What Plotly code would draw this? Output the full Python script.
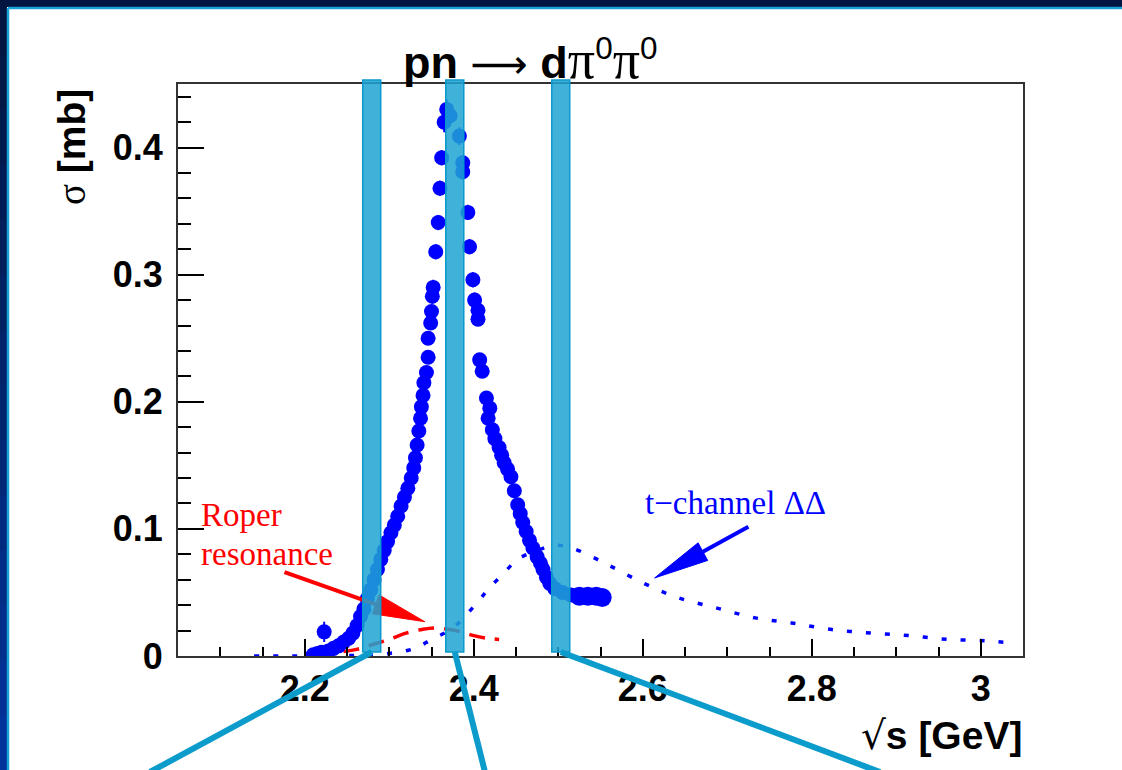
import math
import plotly.graph_objects as go

# ---------------- data ----------------
data_x = [2.210, 2.215, 2.220, 2.223, 2.228, 2.234, 2.240, 2.246, 2.252, 2.257,
          2.262, 2.266, 2.270, 2.274, 2.278, 2.282, 2.286, 2.290, 2.294, 2.298,
          2.302, 2.306, 2.310, 2.314, 2.318, 2.322, 2.326, 2.329, 2.331, 2.333,
          2.335, 2.337, 2.338, 2.340, 2.341, 2.344, 2.346, 2.346, 2.349, 2.350,
          2.351, 2.352, 2.355, 2.358, 2.360, 2.362, 2.365, 2.368,
          2.372, 2.383, 2.387, 2.387, 2.393, 2.395, 2.399, 2.401, 2.405, 2.405,
          2.407, 2.410, 2.415, 2.417, 2.419, 2.422, 2.425, 2.430, 2.433, 2.436,
          2.440, 2.444, 2.448, 2.452, 2.455, 2.458,
          2.462, 2.466, 2.470, 2.475, 2.479, 2.482, 2.486, 2.490, 2.496, 2.505,
          2.515, 2.525, 2.535, 2.545, 2.552]
data_y = [0.001, 0.002, 0.003, 0.019, 0.004, 0.006, 0.008, 0.011, 0.014, 0.018,
          0.024, 0.031, 0.037, 0.045, 0.052, 0.060, 0.068, 0.076, 0.083, 0.090,
          0.097, 0.103, 0.110, 0.118, 0.125, 0.132, 0.140, 0.148, 0.156, 0.166,
          0.177, 0.187, 0.196, 0.205, 0.215, 0.223, 0.235, 0.250, 0.262, 0.271,
          0.283, 0.290, 0.318, 0.341, 0.368, 0.392, 0.420, 0.430,
          0.425, 0.409, 0.388, 0.381, 0.349, 0.322, 0.296, 0.280, 0.272, 0.265,
          0.233, 0.224, 0.203, 0.187, 0.195, 0.178, 0.171, 0.164, 0.158, 0.152,
          0.147, 0.141, 0.130, 0.119, 0.112, 0.105,
          0.098, 0.091, 0.085, 0.078, 0.073, 0.068, 0.062, 0.057, 0.053, 0.050,
          0.048, 0.047, 0.047, 0.047, 0.046]
data_err = [0.002, 0.002, 0.002, 0.008, 0.002, 0.002, 0.002, 0.002, 0.002, 0.002,
            0.003, 0.003, 0.003, 0.003, 0.003, 0.003, 0.003, 0.003, 0.003, 0.003,
            0.004, 0.004, 0.004, 0.004, 0.004, 0.004, 0.004, 0.004, 0.004, 0.004,
            0.005, 0.005, 0.005, 0.005, 0.005, 0.005, 0.005, 0.005, 0.005, 0.005,
            0.006, 0.006, 0.006, 0.006, 0.006, 0.006, 0.008, 0.008,
            0.008, 0.007, 0.006, 0.006, 0.006, 0.006, 0.006, 0.006, 0.005, 0.005,
            0.005, 0.005, 0.005, 0.005, 0.005, 0.005, 0.005, 0.004, 0.004, 0.004,
            0.004, 0.004, 0.004, 0.004, 0.004, 0.004,
            0.004, 0.003, 0.003, 0.003, 0.003, 0.003, 0.003, 0.003, 0.003, 0.003,
            0.004, 0.005, 0.006, 0.006, 0.005]

roper_x = [2.215, 2.24, 2.26, 2.28, 2.30, 2.32, 2.34, 2.355, 2.37, 2.385, 2.40, 2.415, 2.43]
roper_y = [0.002, 0.003, 0.005, 0.009, 0.013, 0.018, 0.021, 0.022, 0.021, 0.019, 0.016, 0.014, 0.013]

tch_x = [2.14, 2.20, 2.26, 2.30, 2.33, 2.35, 2.375, 2.404, 2.419, 2.434, 2.452, 2.475,
         2.496, 2.516, 2.54, 2.561, 2.602, 2.641, 2.686, 2.733, 2.776, 2.822, 2.870,
         2.916, 2.962, 3.006, 3.04]
tch_y = [0.000, 0.000, 0.0005, 0.002, 0.006, 0.013, 0.022, 0.042, 0.054, 0.064, 0.076, 0.083,
         0.087, 0.085, 0.078, 0.071, 0.057, 0.046, 0.038, 0.030, 0.026, 0.021, 0.018,
         0.016, 0.013, 0.012, 0.010]

x_tickvals = [2.2, 2.4, 2.6, 2.8, 3.0]
x_ticktext = ["2.2", "2.4", "2.6", "2.8", "3"]
y_tickvals = [0, 0.1, 0.2, 0.3, 0.4]
y_ticktext = ["0", "0.1", "0.2", "0.3", "0.4"]

x_range = [2.05, 3.05]
y_range = [0.0, 0.45]

# highlighted energy bands (sqrt(s) intervals)
bands = [(2.2686, 2.2899), (2.3669, 2.3882), (2.4923, 2.5136)]
# where the callout lines leave the page (pixel x at bottom edge)
callout_ends = [150, 485, 880]

# ---------------- layout geometry ----------------
W, H = 1122, 770
L, R, T, B = 178, 99, 84, 114
PW, PH = W - L - R, H - T - B


def pxp(xp):  # pixel x -> paper
    return (xp - L) / PW


def pyp(yp):  # pixel y -> paper
    return (H - B - yp) / PH


def d2px(x):
    return L + (x - x_range[0]) / (x_range[1] - x_range[0]) * PW


def d2py(y):
    return (H - B) - (y - y_range[0]) / (y_range[1] - y_range[0]) * PH


shapes = []

# dark page frame (top + left strip with gradient) and cyan inner border
shapes.append(dict(type="rect", xref="paper", yref="paper", x0=pxp(0), x1=pxp(W),
                   y0=pyp(7), y1=pyp(0), fillcolor="#001640", line_width=0, layer="above"))
nseg = 14
for i in range(nseg):
    t = i / (nseg - 1)
    r_, g_, b_ = 0, int(22 + 30 * t), int(64 + 90 * t)
    shapes.append(dict(type="rect", xref="paper", yref="paper", x0=pxp(0), x1=pxp(7),
                       y0=pyp(H * (i + 1) / nseg), y1=pyp(H * i / nseg),
                       fillcolor=f"rgb({r_},{g_},{b_})", line_width=0, layer="above"))
shapes.append(dict(type="line", xref="paper", yref="paper", x0=pxp(8), x1=pxp(W),
                   y0=pyp(8), y1=pyp(8), line=dict(color="#1aa3d6", width=2.5), layer="above"))
shapes.append(dict(type="line", xref="paper", yref="paper", x0=pxp(8), x1=pxp(8),
                   y0=pyp(8), y1=pyp(H), line=dict(color="#1aa3d6", width=2.5), layer="above"))


def arrow(tail, tip, color, width, head_len, head_half):
    x1, y1 = d2px(tail[0]), d2py(tail[1])
    x2, y2 = d2px(tip[0]), d2py(tip[1])
    dx, dy = x2 - x1, y2 - y1
    ln = math.hypot(dx, dy)
    ux, uy = dx / ln, dy / ln
    bx, by = x2 - ux * head_len, y2 - uy * head_len
    nx, ny = -uy, ux
    shapes.append(dict(type="line", xref="paper", yref="paper",
                       x0=pxp(x1), y0=pyp(y1), x1=pxp(bx), y1=pyp(by),
                       line=dict(color=color, width=width), layer="above"))
    pts = [(x2, y2), (bx + nx * head_half, by + ny * head_half), (bx - nx * head_half, by - ny * head_half)]
    path = "M " + " L ".join(f"{pxp(a):.5f},{pyp(b):.5f}" for a, b in pts) + " Z"
    shapes.append(dict(type="path", xref="paper", yref="paper", path=path,
                       fillcolor=color, line=dict(color=color, width=1), layer="above"))


arrow((2.176, 0.066), (2.342, 0.027), "#ff0000", 4, 52, 10)
arrow((2.725, 0.1016), (2.614, 0.0614), "#0000ff", 4, 55, 10)

# highlight bands and callout lines
for (b0, b1), xe in zip(bands, callout_ends):
    shapes.append(dict(type="rect", xref="x", yref="paper", x0=b0, x1=b1,
                       y0=pyp(652), y1=pyp(80),
                       fillcolor="rgba(30,165,212,0.85)",
                       line=dict(color="#0b98cc", width=1.5), layer="above"))
    xc = (b0 + b1) / 2
    shapes.append(dict(type="line", xref="paper", yref="paper",
                       x0=pxp(d2px(xc)), y0=pyp(652), x1=pxp(xe), y1=pyp(H + 2),
                       line=dict(color="#0c9ccc", width=6), layer="above"))

# ---------------- traces ----------------
sizes = [15] * len(data_x)
for k in range(1, 5):
    sizes[-k] = 19

fig = go.Figure()
fig.add_trace(go.Scatter(x=tch_x, y=tch_y, mode="lines",
                         line=dict(color="#0000ff", width=3.5, dash="5px,14px", shape="spline"),
                         hoverinfo="skip"))
fig.add_trace(go.Scatter(x=roper_x, y=roper_y, mode="lines",
                         line=dict(color="#ff0000", width=3.5, dash="16px,10px", shape="spline"),
                         hoverinfo="skip"))
fig.add_trace(go.Scatter(x=data_x, y=data_y, mode="markers",
                         marker=dict(color="#0000ff", size=sizes, line_width=0, opacity=1),
                         error_y=dict(type="data", array=data_err, color="#0000ff",
                                      thickness=2, width=0)))

sans = "Liberation Sans, Arial, sans-serif"
serif = "Liberation Serif, Times New Roman, serif"
tickfont = dict(family=sans, size=36, color="black", weight="bold")
axcommon = dict(showgrid=False, zeroline=False, showline=True, linecolor="#333333",
                linewidth=2, mirror=True, ticks="inside", tickcolor="black",
                tickwidth=2, tickfont=tickfont)

fig.update_layout(
    width=W, height=H, showlegend=False,
    margin=dict(l=L, r=R, t=T, b=B, autoexpand=False),
    paper_bgcolor="white", plot_bgcolor="white",
    shapes=shapes,
    xaxis=dict(range=x_range, tickvals=x_tickvals, ticktext=x_ticktext, ticklen=17,
               ticklabelstandoff=0,
               minor=dict(dtick=0.05, tick0=2.0, ticks="inside", ticklen=9,
                          tickcolor="black", tickwidth=2),
               **axcommon),
    yaxis=dict(range=y_range, tickvals=y_tickvals, ticktext=y_ticktext, ticklen=26,
               ticklabelstandoff=6,
               minor=dict(dtick=0.02, tick0=0, ticks="inside", ticklen=13,
                          tickcolor="black", tickwidth=2),
               **axcommon),
)

ann = [
    dict(text=("<b>pn</b> <span style='font-family:DejaVu Sans;font-size:40px'>⟶</span> <b>d</b>"
               "<span style='font-family:Liberation Serif;font-size:54px'>π</span><sup>0</sup>"
               "<span style='font-family:Liberation Serif;font-size:54px'>π</span><sup>0</sup>"),
         x=pxp(530), y=pyp(60),
         font=dict(family=sans, size=45, color="black")),
    dict(text="<span style='font-family:Liberation Serif'>σ</span> <b>[mb]</b>",
         x=pxp(72), y=pyp(147), textangle=-90,
         font=dict(family=sans, size=39, color="black")),
    dict(text="<span style='font-family:DejaVu Sans'>√</span><b>s [GeV]</b>",
         x=pxp(1024), y=pyp(735), xanchor="right",
         font=dict(family=sans, size=39, color="black")),
    dict(text="Roper", x=pxp(199), y=pyp(515), xanchor="left",
         font=dict(family=serif, size=33, color="#ff0000")),
    dict(text="resonance", x=pxp(199), y=pyp(554), xanchor="left",
         font=dict(family=serif, size=33, color="#ff0000")),
    dict(text="t−channel ΔΔ", x=pxp(643), y=pyp(503), xanchor="left",
         font=dict(family=serif, size=33, color="#0000ff")),
]
for a in ann:
    a.update(xref="paper", yref="paper", showarrow=False)
    a.setdefault("xanchor", "center")
    a.setdefault("yanchor", "middle")
fig.update_layout(annotations=ann)

fig.write_html("out.html", config={"displayModeBar": False},
               post_script="document.body.style.margin='0px';document.body.style.overflow='hidden';")
